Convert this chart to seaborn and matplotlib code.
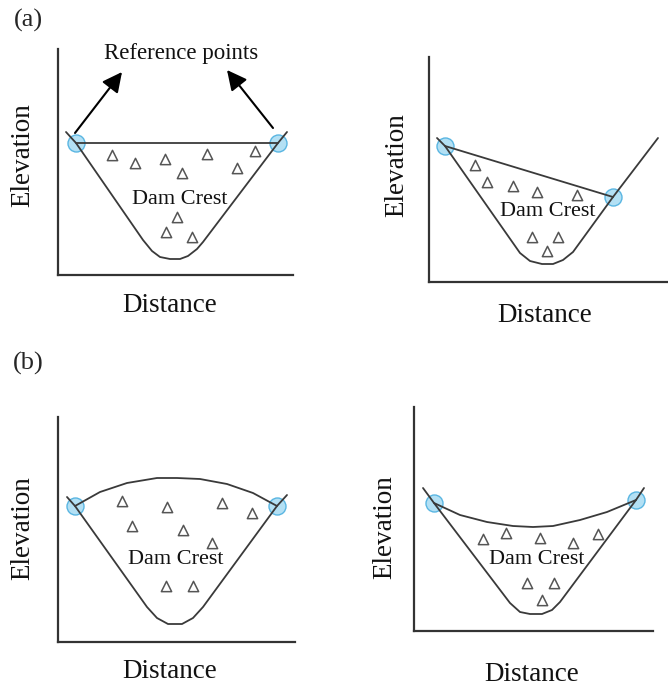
"""
Dam crest reference-point schematic: (a) straight crest lines,
(b) curved crest lines, each on a symmetric and asymmetric valley.
"""

import matplotlib
matplotlib.use("Agg")
import matplotlib.pyplot as plt
import pandas as pd
import seaborn as sns

sns.set_theme(style="white")
plt.rcParams["font.family"] = ["Liberation Serif", "DejaVu Serif"]

# ── Data (Distance / Elevation in arbitrary schematic units) ─────

# panel a1: symmetric valley, straight crest
a1_valley_x = [8, 18, 85, 94, 102, 112, 122, 130, 139, 145, 220, 229]
a1_valley_y = [143, 132, 35, 24, 18, 16, 16, 19, 26, 33, 132, 143]
a1_crest_x = [18, 220]
a1_crest_y = [132, 132]
a1_tri_x = [54, 77, 107, 124, 149, 179, 197, 119, 108, 134]
a1_tri_y = [120, 112, 116, 102, 121, 107, 124, 58, 43, 38]

# panel a2: asymmetric valley, sloping crest
a2_valley_x = [8, 16, 91, 101, 113, 124, 134, 144, 184, 229]
a2_valley_y = [144, 136, 29, 21, 18, 18, 22, 30, 85, 144]
a2_crest_x = [16, 184]
a2_crest_y = [136, 85]
a2_tri_x = [46, 58, 84, 108, 148, 103, 129, 118]
a2_tri_y = [117, 100, 96, 90, 87, 45, 45, 31]

# panel b1: symmetric valley, arched crest
b1_valley_x = [9, 17, 89, 99, 110, 124, 135, 145, 219, 229]
b1_valley_y = [145, 136, 35, 24, 18, 18, 24, 35, 136, 147]
b1_crest_x = [17, 42, 69, 99, 119, 142, 169, 195, 219]
b1_crest_y = [136, 150, 159, 164, 164, 163, 158, 149, 136]
b1_tri_x = [64, 109, 164, 194, 74, 125, 154, 108, 135]
b1_tri_y = [141, 135, 139, 129, 116, 112, 99, 56, 56]

# panel b2: symmetric valley, sagging crest
b2_valley_x = [9, 20, 96, 106, 116, 128, 138, 146, 222, 230]
b2_valley_y = [143, 128, 28, 19, 17, 17, 21, 29, 131, 143]
b2_crest_x = [20, 46, 73, 99, 119, 139, 166, 193, 222]
b2_crest_y = [128, 116, 109, 105, 104, 105, 111, 119, 131]
b2_tri_x = [69, 92, 126, 159, 184, 113, 140, 128]
b2_tri_y = [92, 98, 93, 88, 97, 48, 48, 31]

# ── Layout (figure pixels: left, top, right, bottom of each axis) ──
W, H = 668, 686
PANELS = [
    dict(box=(58, 49, 293, 275), vx=a1_valley_x, vy=a1_valley_y,
         cx=a1_crest_x, cy=a1_crest_y, tx=a1_tri_x, ty=a1_tri_y,
         text=(122, 76), ylab=(-0.149, 0.53), xlab=(0.477, -0.133)),
    dict(box=(429, 57, 667, 282), vx=a2_valley_x, vy=a2_valley_y,
         cx=a2_crest_x, cy=a2_crest_y, tx=a2_tri_x, ty=a2_tri_y,
         text=(119, 70), ylab=(-0.134, 0.52), xlab=(0.487, -0.147)),
    dict(box=(58, 417, 295, 642), vx=b1_valley_x, vy=b1_valley_y,
         cx=b1_crest_x, cy=b1_crest_y, tx=b1_tri_x, ty=b1_tri_y,
         text=(118, 82), ylab=(-0.148, 0.507), xlab=(0.473, -0.133)),
    dict(box=(414, 407, 653, 631), vx=b2_valley_x, vy=b2_valley_y,
         cx=b2_crest_x, cy=b2_crest_y, tx=b2_tri_x, ty=b2_tri_y,
         text=(123, 71), ylab=(-0.121, 0.464), xlab=(0.494, -0.196)),
]

LINE = "#3a3a3a"
AXIS = "#333333"

fig = plt.figure(figsize=(W / 100, H / 100), dpi=100)

axes = []
for p in PANELS:
    l, t, r, b = p["box"]
    ax = fig.add_axes([l / W, 1 - b / H, (r - l) / W, (b - t) / H])
    ax.set_xlim(0, r - l)
    ax.set_ylim(0, b - t)

    # reference points (under the lines)
    ends = pd.DataFrame({"x": [p["cx"][0], p["cx"][-1]],
                         "y": [p["cy"][0], p["cy"][-1]]})
    sns.scatterplot(data=ends, x="x", y="y", ax=ax, s=150, marker="o",
                    color="#b3e0f4", edgecolor="#5ab6e2", linewidth=1.0,
                    zorder=2, clip_on=False)

    valley = pd.DataFrame({"x": p["vx"], "y": p["vy"]})
    sns.lineplot(data=valley, x="x", y="y", ax=ax, sort=False,
                 estimator=None, color=LINE, lw=1.3, zorder=3)
    crest = pd.DataFrame({"x": p["cx"], "y": p["cy"]})
    sns.lineplot(data=crest, x="x", y="y", ax=ax, sort=False,
                 estimator=None, color=LINE, lw=1.3, zorder=3)

    tri = pd.DataFrame({"x": p["tx"], "y": p["ty"]})
    sns.scatterplot(data=tri, x="x", y="y", ax=ax, marker="^", s=55,
                    facecolor="white", edgecolor="#555555",
                    linewidth=1.1, zorder=4)

    ax.text(*p["text"], "Dam Crest", fontsize=16, ha="center",
            va="center", color="#111111", zorder=5)

    ax.set_xticks([])
    ax.set_yticks([])
    sns.despine(ax=ax)
    for s in ("left", "bottom"):
        ax.spines[s].set_color(AXIS)
        ax.spines[s].set_linewidth(1.6)
    ax.set_xlabel("Distance", fontsize=19.5, color="#111111", va="center")
    ax.set_ylabel("Elevation", fontsize=19.5, color="#111111", va="center")
    ax.xaxis.set_label_coords(*p["xlab"])
    ax.yaxis.set_label_coords(*p["ylab"])
    ax.patch.set_alpha(0)
    axes.append(ax)

# reference point arrows on the first panel
ax = axes[0]
arrow = dict(arrowstyle="-|>", color="black", lw=1.5,
             mutation_scale=30, shrinkA=0, shrinkB=0)
ax.annotate("", xy=(64, 203), xytext=(17, 142), arrowprops=arrow)
ax.annotate("", xy=(169, 205), xytext=(215, 147), arrowprops=arrow)
ax.text(123, 222, "Reference points", fontsize=16.5, ha="center",
        va="center", color="#111111")

fig.text(28 / W, 1 - 20 / H, "(a)", fontsize=19, ha="center", va="center")
fig.text(28 / W, 1 - 363 / H, "(b)", fontsize=19, ha="center", va="center")

fig.savefig("out.png", dpi=100, facecolor="white")
